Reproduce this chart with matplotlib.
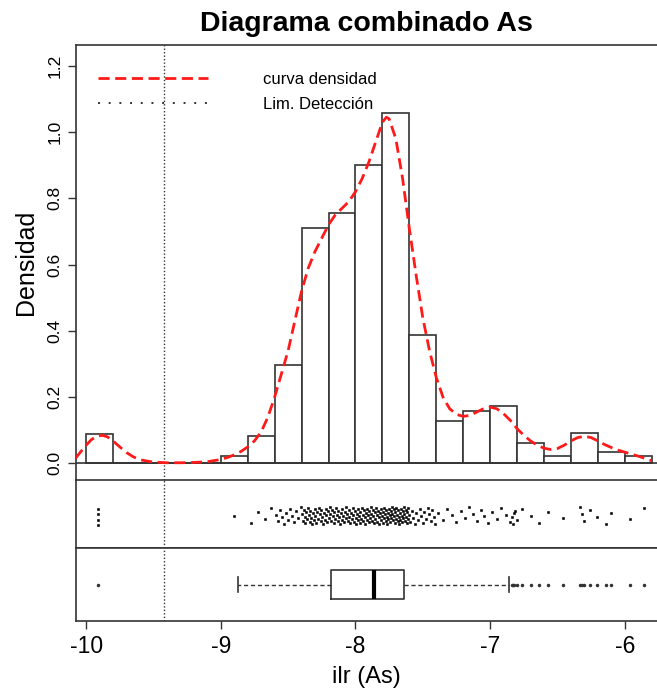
import numpy as np
import matplotlib
matplotlib.use("Agg")
import matplotlib.pyplot as plt
from matplotlib.lines import Line2D

plt.rcParams['font.family'] = ['Liberation Sans', 'DejaVu Sans']

# histogram (density per 0.2 bin, left edges)
bin_left = [-10.0, -9.8, -9.6, -9.4, -9.2, -9.0, -8.8, -8.6, -8.4, -8.2, -8.0, -7.8,
            -7.6, -7.4, -7.2, -7.0, -6.8, -6.6, -6.4, -6.2, -6.0]
bin_dens = [0.09, 0.0, 0.0, 0.0, 0.0, 0.022, 0.084, 0.297, 0.71, 0.757, 0.9, 1.058,
            0.388, 0.127, 0.158, 0.172, 0.061, 0.023, 0.091, 0.036, 0.023]

# density curve
dens_x = [-10.08, -10.04, -10.0, -9.96, -9.92, -9.88, -9.84, -9.8, -9.75, -9.7, -9.65,
          -9.6, -9.5, -9.4, -9.3, -9.2, -9.1, -9.0, -8.95, -8.9, -8.85, -8.8, -8.75,
          -8.7, -8.65, -8.6, -8.55, -8.5, -8.45, -8.4, -8.35, -8.3, -8.25, -8.2, -8.15,
          -8.1, -8.05, -8.0, -7.95, -7.9, -7.85, -7.8, -7.77, -7.75, -7.7, -7.65, -7.6,
          -7.55, -7.5, -7.45, -7.4, -7.35, -7.3, -7.25, -7.2, -7.15, -7.1, -7.05, -7.0,
          -6.95, -6.9, -6.85, -6.8, -6.75, -6.7, -6.65, -6.6, -6.55, -6.5, -6.45, -6.4,
          -6.35, -6.3, -6.25, -6.2, -6.15, -6.1, -6.05, -6.0, -5.95, -5.9, -5.85, -5.8]
dens_y = [0.015, 0.035, 0.055, 0.072, 0.082, 0.085, 0.08, 0.068, 0.05, 0.033, 0.02,
          0.011, 0.004, 0.002, 0.002, 0.003, 0.005, 0.012, 0.018, 0.026, 0.036, 0.05, 0.068,
          0.095, 0.14, 0.2, 0.27, 0.34, 0.43, 0.52, 0.59, 0.64, 0.68, 0.72, 0.75,
          0.77, 0.79, 0.82, 0.86, 0.91, 0.97, 1.03, 1.045, 1.04, 0.98, 0.86, 0.71,
          0.57, 0.44, 0.34, 0.26, 0.2, 0.165, 0.148, 0.142, 0.145, 0.155, 0.165, 0.17,
          0.165, 0.15, 0.13, 0.105, 0.085, 0.068, 0.055, 0.046, 0.042, 0.045, 0.055, 0.068,
          0.078, 0.082, 0.078, 0.068, 0.057, 0.048, 0.04, 0.034, 0.028, 0.022, 0.015, 0.008]

lim_deteccion = -9.42

# strip chart: counts per 0.2 bin for the bulk, single values for the tails
strip_bin_left = [-9.0, -8.8, -8.6, -8.4, -8.2, -8.0, -7.8, -7.6, -7.4, -7.2, -7.0]
strip_counts = [1, 4, 13, 32, 34, 40, 47, 17, 6, 7, 6]
low_values = [-9.91, -9.91, -9.91, -9.91]
high_values = [-6.84, -6.83, -6.82, -6.80, -6.76, -6.70, -6.64, -6.57, -6.46, -6.33,
               -6.32, -6.30, -6.26, -6.21, -6.14, -6.10, -5.96, -5.86]

# boxplot
box_q1, box_med, box_q3 = -8.18, -7.86, -7.64
whisk_lo, whisk_hi = -8.87, -6.86

line_col = '#333333'
red = '#ff1a1a'
W, H = 657, 694
fig = plt.figure(figsize=(W / 100, H / 100), dpi=100)

left_px, right_px = 75.7, 657
xlim = (-10.077, -5.761)


def add_ax(top_px, bot_px):
    return fig.add_axes([left_px / W, 1 - bot_px / H, (right_px - left_px) / W,
                         (bot_px - top_px) / H])


ax_h = add_ax(45, 480)
ax_s = add_ax(480, 548)
ax_b = add_ax(548, 621)

for ax in (ax_h, ax_s, ax_b):
    ax.set_xlim(*xlim)
    ax.spines['right'].set_visible(False)
    for s in ('left', 'top', 'bottom'):
        ax.spines[s].set_color(line_col)
        ax.spines[s].set_linewidth(1.2)
    ax.axvline(lim_deteccion, color=line_col, lw=1, ls=(0, (1, 1.5)), zorder=1)
    ax.tick_params(colors=line_col, length=6, width=1, labelcolor='black')

# histogram panel
ax_h.bar(bin_left, bin_dens, width=0.2, align='edge', facecolor='white',
         edgecolor=line_col, linewidth=1.2, zorder=2)
ax_h.axhline(0, color=line_col, lw=1.2, zorder=2)
ax_h.plot(dens_x, dens_y, color=red, lw=2, ls=(0, (4, 2)), zorder=3)
ax_h.set_ylim(-0.05, 1.263)
ax_h.set_yticks([0.0, 0.2, 0.4, 0.6, 0.8, 1.0, 1.2])
ax_h.set_yticklabels(['0.0', '0.2', '0.4', '0.6', '0.8', '1.0', '1.2'],
                     rotation=90, va='center', fontsize=12.5)
ax_h.set_xticks([])
ax_h.spines['bottom'].set_visible(False)
ax_h.set_ylabel('Densidad', fontsize=18, labelpad=7)
ax_h.set_title('Diagrama combinado As', fontsize=20.5, fontweight='bold', pad=10)

handles = [Line2D([], [], color=red, lw=2, ls=(0, (4, 2))),
           Line2D([], [], color=line_col, lw=1.4, ls=(0, (1, 4.5)))]
ax_h.legend(handles, ['curva densidad', 'Lim. Detección'], loc='upper left',
            bbox_to_anchor=(0.038, 0.938), frameon=False, fontsize=12,
            handlelength=6.6, handletextpad=3.3, labelspacing=0.62,
            borderaxespad=0, borderpad=0)

# strip chart panel
strip_x = []
for b, c in zip(strip_bin_left, strip_counts):
    strip_x += list(b + (np.arange(c) + 0.5) * 0.2 / c)
strip_x = np.array(low_values + strip_x + high_values)
idx = np.arange(len(strip_x))
jit = ((idx * 0.6180339887) % 1.0 * 2 - 1) * 0.26 - 0.05
ax_s.plot(strip_x, jit, ls='none', marker='s', ms=2, mfc='black', mec='black', mew=0.4)
ax_s.set_ylim(-1, 1)
ax_s.set_xticks([])
ax_s.set_yticks([])

# boxplot panel
stats = [dict(med=box_med, q1=box_q1, q3=box_q3, whislo=whisk_lo, whishi=whisk_hi,
              fliers=low_values[:1] + high_values)]
ax_b.bxp(stats, positions=[0], widths=0.8, orientation='horizontal', capwidths=0.4,
         boxprops=dict(color=line_col, lw=1.2),
         medianprops=dict(color='black', lw=3),
         whiskerprops=dict(color=line_col, lw=1, ls=(0, (3, 2))),
         capprops=dict(color=line_col, lw=1.2),
         flierprops=dict(marker='.', ms=3, mfc=line_col, mec=line_col))
ax_b.set_ylim(-1, 1)
ax_b.set_yticks([])
ax_b.set_xticks([-10, -9, -8, -7, -6])
ax_b.set_xticklabels(['-10', '-9', '-8', '-7', '-6'], fontsize=16.5)
ax_b.tick_params(axis='x', pad=4)
ax_b.set_xlabel('ilr (As)', fontsize=17, labelpad=6)

fig.savefig('out.png', dpi=100)
